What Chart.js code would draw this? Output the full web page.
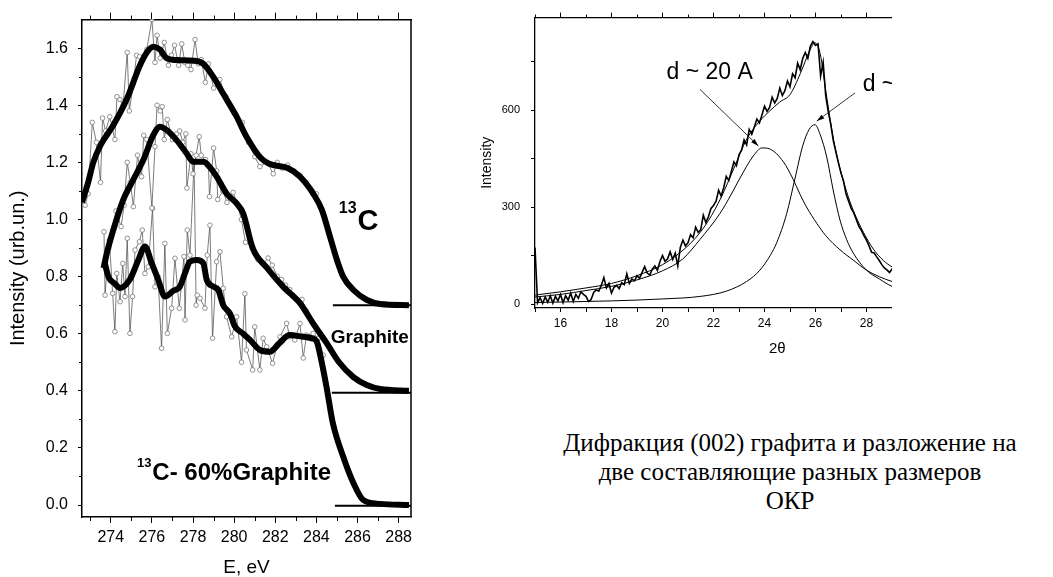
<!DOCTYPE html>
<html>
<head>
<meta charset="utf-8">
<script src="https://cdn.jsdelivr.net/npm/chart.js@4.4.0/dist/chart.umd.min.js"></script>
<style>
  html, body { margin: 0; padding: 0; background: #fff; }
  body { width: 1053px; height: 577px; position: relative; overflow: hidden; }
  #xasBox { position: absolute; left: 0; top: 0; width: 430px; height: 577px; }
  #xrdBox { position: absolute; left: 440px; top: 0; width: 452px; height: 360px; overflow: hidden; }
  #caption {
    position: absolute; left: 540px; top: 428px; width: 500px; text-align: center;
    font-family: "Liberation Serif", "Times New Roman", serif; font-size: 25px; line-height: 29px; color: #000;
  }
</style>
</head>
<body>
<div id="xasBox"><canvas id="xas" width="430" height="577"></canvas></div>
<div id="xrdBox"><canvas id="xrd" width="600" height="360"></canvas></div>
<div id="caption">Дифракция (002) графита и разложение на<br>две составляющие разных размеров<br>ОКР</div>
<script>
const SANS = "'Liberation Sans', Arial, sans-serif";
Chart.defaults.font.family = SANS;
Chart.defaults.color = "#000";

// LEFT PANEL DATA: [E (eV), intensity]
const c13Fit = [[272.6,1.06],[272.9,1.13],[273.15,1.20],[273.5,1.26],[274.12,1.33],[274.77,1.42],[275.42,1.54],[275.75,1.585],
  [276.07,1.605],[276.39,1.595],[276.72,1.565],[277.36,1.558],[278.01,1.556],[278.5,1.545],[278.98,1.50],[279.47,1.44],
  [280.12,1.36],[280.6,1.29],[281.3,1.215],[281.7,1.195],[282.6,1.18],[283.2,1.15],[283.85,1.09],[284.27,1.033],
  [284.66,0.94],[285.0,0.858],[285.3,0.80],[285.8,0.753],[286.46,0.718],[287.1,0.704],[288.5,0.70]];
const c13Raw = [[272.75,1.05],[272.9,1.09],[273.1,1.34],[273.3,1.27],[273.5,1.13],[273.6,1.355],[273.75,1.31],[273.95,1.36],
  [274.2,1.28],[274.3,1.43],[274.45,1.42],[274.6,1.40],[274.8,1.585],[274.9,1.38],[275.1,1.475],[275.25,1.575],[275.4,1.57],
  [275.55,1.56],[275.75,1.595],[276.0,1.70],[276.15,1.55],[276.25,1.645],[276.4,1.565],[276.6,1.62],[276.8,1.54],[276.95,1.575],
  [277.1,1.61],[277.3,1.54],[277.45,1.615],[277.6,1.55],[277.75,1.54],[277.9,1.525],[278.1,1.63],[278.25,1.545],[278.4,1.56],
  [278.6,1.48],[278.75,1.545],[279.0,1.46],[279.3,1.49],[279.6,1.43],[279.95,1.38],[280.1,1.365],[280.4,1.34],[280.7,1.27],
  [281.0,1.22],[281.25,1.185],[281.6,1.20],[281.9,1.16],[282.1,1.20],[282.35,1.18],[282.6,1.19],[282.9,1.17],[283.2,1.155],
  [283.5,1.13],[283.8,1.10],[284.0,1.09]];

const graphiteFit = [[273.65,0.83],[273.8,0.88],[274.12,0.963],[274.6,1.068],[275.1,1.14],[275.58,1.208],[276.07,1.296],
  [276.39,1.325],[276.72,1.313],[277.2,1.278],[277.69,1.231],[278.01,1.202],[278.5,1.202],[278.74,1.19],[279.15,1.15],
  [279.63,1.091],[280.12,1.056],[280.44,1.021],[280.9,0.90],[281.6,0.83],[282.4,0.763],[283.2,0.707],[283.83,0.637],
  [284.5,0.567],[285.1,0.50],[285.8,0.448],[286.45,0.42],[287.1,0.406],[288.5,0.40]];
const graphiteRaw = [[273.9,0.90],[274.1,0.96],[274.25,1.03],[274.5,0.975],[274.65,1.05],[274.8,1.20],[274.95,1.13],[275.1,1.045],
  [275.3,1.225],[275.5,1.15],[275.6,1.295],[275.75,1.28],[276.0,1.04],[276.15,1.255],[276.25,1.40],[276.4,1.38],[276.5,1.395],
  [276.6,1.28],[276.75,1.35],[277.0,1.28],[277.2,1.30],[277.35,1.31],[277.5,1.27],[277.65,1.30],[277.7,1.11],[277.9,1.23],
  [278.0,1.16],[278.15,1.225],[278.3,1.29],[278.4,1.225],[278.6,1.21],[278.75,1.185],[278.8,1.08],[279.0,1.25],[279.15,1.17],
  [279.2,1.07],[279.45,1.10],[279.65,1.06],[279.95,1.095],[280.15,1.055],[280.35,1.00],[280.55,0.92],[280.9,0.905],
  [281.15,0.86],[281.4,0.845],[281.65,0.865],[281.85,0.84],[282.1,0.80],[282.3,0.79],[282.5,0.77],[282.7,0.755],
  [282.85,0.73],[283.0,0.72],[283.3,0.72],[283.5,0.68]];

const mixFit = [[273.7,0.85],[273.88,0.80],[274.2,0.775],[274.45,0.76],[274.93,0.79],[275.34,0.858],[275.66,0.905],
  [275.99,0.847],[276.31,0.788],[276.63,0.73],[277.04,0.75],[277.36,0.765],[277.6,0.81],[277.85,0.852],[278.18,0.858],
  [278.5,0.847],[278.66,0.79],[278.98,0.765],[279.23,0.753],[279.47,0.70],[279.8,0.67],[280.04,0.625],[280.44,0.60],
  [280.77,0.578],[281.25,0.543],[281.74,0.537],[282.2,0.567],[282.7,0.595],[283.28,0.59],[283.77,0.584],[284.0,0.575],
  [284.2,0.52],[284.5,0.41],[284.8,0.287],[285.3,0.17],[285.8,0.077],[286.27,0.018],[287.1,0.004],[288.5,0.0]];
const mixRaw = [[273.67,0.957],[273.72,0.735],[273.93,0.928],[274.09,0.741],[274.2,0.607],[274.29,0.811],[274.45,0.712],
  [274.58,0.846],[274.69,0.73],[274.8,0.934],[274.93,0.601],[275.06,0.73],[275.18,0.893],[275.39,0.922],[275.53,0.963],
  [275.66,0.811],[275.82,0.834],[276.03,1.039],[276.15,0.764],[276.3,0.80],[276.47,0.549],[276.63,0.916],[276.75,0.601],
  [276.96,0.689],[277.12,0.864],[277.33,0.689],[277.56,0.87],[277.61,0.648],[277.72,0.963],[277.85,0.875],[278.05,1.20],
  [278.15,0.70],[278.2,0.735],[278.34,0.724],[278.58,0.689],[278.69,0.875],[278.82,0.98],[278.95,0.584],[279.15,0.852],
  [279.31,0.887],[279.47,0.759],[279.63,0.659],[279.88,0.589],[280.12,0.659],[280.36,0.50],[280.52,0.74],[280.6,0.543],
  [280.9,0.473],[281.0,0.624],[281.25,0.473],[281.41,0.584],[281.58,0.554],[281.87,0.496],[282.06,0.554],[282.23,0.589],
  [282.55,0.636],[282.71,0.589],[282.95,0.578],[283.2,0.636],[283.36,0.515],[283.52,0.595],[283.84,0.601],[284.09,0.584],
  [284.33,0.525]];

// flat tails at high energy
const c13Base = [[284.8,0.70],[288.8,0.70]];
const graphiteBase = [[284.75,0.393],[288.8,0.393]];
const mixBase = [[284.9,-0.003],[288.8,-0.003]];

const xasTicksE = [274, 276, 278, 280, 282, 284, 286, 288];
const xasMinorE = [273, 275, 277, 279, 281, 283, 285, 287];
const xasTicksI = [0.0, 0.2, 0.4, 0.6, 0.8, 1.0, 1.2, 1.4, 1.6];
const xasMinorI = [0.1, 0.3, 0.5, 0.7, 0.9, 1.1, 1.3, 1.5];

// RIGHT PANEL DATA: XRD (002)
const xrdStart = 15.0, xrdStep = 0.1;
const xrdCounts = [175,4,20,2,22,6,26,3,24,10,30,4,26,12,34,8,30,18,38,30,
  24,8,14,36,44,40,58,82,50,64,34,52,58,48,66,60,94,64,78,72,
  88,80,98,116,96,90,108,118,104,132,150,132,140,162,138,158,118,176,198,180,
  190,215,205,238,222,230,275,252,270,296,305,318,352,334,360,395,382,410,440,428,
  462,476,508,492,540,525,548,572,560,585,612,596,608,640,622,636,668,645,660,690,
  672,712,700,745,725,760,778,760,798,812,800,805,705,748,645,595,555,505,470,436,
  405,380,340,318,296,282,262,240,228,212,198,180,160,158,146,135,122,112,106,98,108,100];
const xrdFit = [[15,28],[16,38],[17,50],[18,64],[19,88],[20,122],[20.7,160],[21.3,205],[21.8,258],[22.3,330],[22.8,420],
  [23.3,510],[23.8,565],[24.2,597],[24.6,625],[25.0,648],[25.4,712],[25.78,785],[25.98,808],[26.18,775],[26.44,640],
  [26.7,512],[26.96,420],[27.22,348],[27.48,290],[27.88,222],[28.27,170],[28.66,135],[29.0,115],[29.5,95]];
const peak20A = [[15,22],[16,30],[17,42],[18,55],[19,75],[20,103],[20.8,140],[21.47,200],[22.25,280],[22.7,340],[23.04,390],
  [23.56,458],[23.9,483],[24.2,480],[24.74,440],[25.13,385],[25.39,340],[25.65,300],[26.05,250],[26.4,212],[26.96,168],
  [27.5,135],[28.0,105],[29.0,70],[29.5,62]];
const peakLarge = [[15,5],[18,10],[20,16],[21.5,24],[22.5,40],[23.3,70],[23.82,105],[24.22,150],[24.48,190],[24.87,280],
  [25.2,390],[25.5,490],[25.75,540],[25.98,555],[26.18,525],[26.44,455],[26.7,350],[26.96,260],[27.22,200],[27.48,158],
  [28.0,105],[28.5,78],[29.0,55],[29.5,45]];

const xrdTicks2T = [15, 16, 17, 18, 19, 20, 21, 22, 23, 24, 25, 26, 27, 28, 29, 30, 31, 32, 33];
const xrdTopTicks = [16, 18, 20, 22, 24, 26, 28, 30, 32];
const xrdMinor = [15, 17, 19, 21, 23, 25, 27, 29, 31, 33];
const xrdTicksI = [0, 150, 300, 450, 600, 750];
const xrdLabelsI = [0, 300, 600];

const pts = arr => arr.map(p => ({ x: p[0], y: p[1] }));
const setTicks = list => s => { s.ticks = list.map(v => ({ value: v })); };

// minor tick marks drawn against the chart's own scales
const minorTicks = {
  id: "minorTicks",
  afterDraw(chart, args, opts) {
    const { ctx, chartArea: a } = chart;
    ctx.save();
    ctx.strokeStyle = "#000";
    ctx.lineWidth = 1;
    (opts.marks || []).forEach(m => {
      const s = chart.scales[m.scale];
      m.values.forEach(v => {
        const p = Math.round(s.getPixelForValue(v)) + 0.5;
        ctx.beginPath();
        if (m.side === "bottom") { ctx.moveTo(p, a.bottom); ctx.lineTo(p, a.bottom + m.len); }
        if (m.side === "top") { ctx.moveTo(p, a.top); ctx.lineTo(p, a.top - m.len); }
        if (m.side === "left") { ctx.moveTo(a.left, p); ctx.lineTo(a.left - m.len, p); }
        ctx.stroke();
      });
    });
    if (opts.rightEdge) {
      ctx.lineWidth = 1.5;
      ctx.beginPath();
      ctx.moveTo(a.right, a.top);
      ctx.lineTo(a.right, a.bottom);
      ctx.stroke();
    }
    ctx.restore();
  }
};

// text marks (with optional superscript) and arrows in data coordinates
const notes = {
  id: "notes",
  afterDatasetsDraw(chart, args, opts) {
    const { ctx } = chart;
    const xs = chart.scales.x, ys = chart.scales.y;
    ctx.save();
    ctx.fillStyle = "#000";
    ctx.strokeStyle = "#000";
    ctx.textAlign = "left";
    ctx.textBaseline = "alphabetic";
    (opts.texts || []).forEach(t => {
      let px = xs.getPixelForValue(t.x);
      const py = ys.getPixelForValue(t.y);
      if (t.sup) {
        ctx.font = (t.bold ? "bold " : "") + t.supSize + "px " + SANS;
        ctx.fillText(t.sup, px, py - t.rise);
        px += ctx.measureText(t.sup).width + 1;
      }
      ctx.font = (t.bold ? "bold " : "") + t.size + "px " + SANS;
      ctx.fillText(t.text, px, py);
    });
    (opts.arrows || []).forEach(r => {
      const x1 = xs.getPixelForValue(r.x1), y1 = ys.getPixelForValue(r.y1);
      const x2 = xs.getPixelForValue(r.x2), y2 = ys.getPixelForValue(r.y2);
      const ang = Math.atan2(y2 - y1, x2 - x1);
      ctx.lineWidth = 0.8;
      ctx.beginPath();
      ctx.moveTo(x1, y1);
      ctx.lineTo(x2, y2);
      ctx.stroke();
      ctx.beginPath();
      ctx.moveTo(x2, y2);
      ctx.lineTo(x2 - 8 * Math.cos(ang - 0.3), y2 - 8 * Math.sin(ang - 0.3));
      ctx.lineTo(x2 - 8 * Math.cos(ang + 0.3), y2 - 8 * Math.sin(ang + 0.3));
      ctx.closePath();
      ctx.fill();
    });
    ctx.restore();
  }
};

const thick = (data) => ({ data: pts(data), borderColor: "#000", borderWidth: 6, pointRadius: 0,
  cubicInterpolationMode: "monotone", order: 0 });
const noisy = (data) => ({ data: pts(data), borderColor: "#444", borderWidth: 0.7, pointRadius: 2.3,
  pointBorderColor: "#777", pointBackgroundColor: "#fff", pointBorderWidth: 0.8, order: 2 });
const flat = (data) => ({ data: pts(data), borderColor: "#000", borderWidth: 2, pointRadius: 0, order: 1 });

new Chart(document.getElementById("xas"), {
  type: "line",
  data: {
    datasets: [
      thick(c13Fit), thick(graphiteFit), thick(mixFit),
      noisy(c13Raw), noisy(graphiteRaw), noisy(mixRaw),
      flat(c13Base), flat(graphiteBase), flat(mixBase)
    ]
  },
  options: {
    responsive: false,
    animation: false,
    events: [],
    layout: { padding: { left: 0, right: 19, top: 0, bottom: 0 } },
    plugins: {
      legend: { display: false },
      tooltip: { enabled: false },
      minorTicks: {
        rightEdge: true,
        marks: [
          { scale: "x", side: "bottom", len: 4, values: xasMinorE },
          { scale: "xTop", side: "top", len: 4, values: xasMinorE },
          { scale: "y", side: "left", len: 3, values: xasMinorI }
        ]
      },
      notes: {
        texts: [
          { x: 285.09, y: 0.963, sup: "13", supSize: 16, rise: 17, text: "C", size: 29, bold: true },
          { x: 284.7, y: 0.567, text: "Graphite", size: 19, bold: true },
          { x: 275.27, y: 0.0875, sup: "13", supSize: 13, rise: 13, text: "C- 60%Graphite", size: 24, bold: true }
        ]
      }
    },
    scales: {
      x: {
        type: "linear", position: "bottom", min: 272.6, max: 288.6,
        afterBuildTicks: setTicks(xasTicksE),
        ticks: { padding: 5, font: { size: 16 }, maxRotation: 0, autoSkip: false },
        grid: { drawOnChartArea: false, tickLength: 6, color: "#000" },
        border: { color: "#000", width: 1.5 },
        title: { display: true, text: "E, eV", font: { size: 19, lineHeight: 1 }, padding: { top: 0, bottom: 0 } },
        afterFit: s => { s.height = 60; }
      },
      xTop: {
        type: "linear", position: "top", min: 272.6, max: 288.6,
        afterBuildTicks: setTicks(xasTicksE),
        ticks: { display: false },
        grid: { drawOnChartArea: false, tickLength: 7, color: "#000" },
        border: { color: "#000", width: 1.5 },
        afterFit: s => { s.height = 19; }
      },
      y: {
        type: "linear", position: "left", min: -0.042, max: 1.70,
        afterBuildTicks: setTicks(xasTicksI),
        ticks: { padding: 10, font: { size: 16 }, autoSkip: false, callback: v => v.toFixed(1) },
        grid: { drawOnChartArea: false, tickLength: 4, color: "#000" },
        border: { color: "#000", width: 1.5 },
        title: { display: true, text: "Intensity (urb.un.)", font: { size: 20, lineHeight: 1 }, padding: { top: 8, bottom: 0 } },
        afterFit: s => { s.width = 82; }
      }
    }
  },
  plugins: [minorTicks, notes]
});

new Chart(document.getElementById("xrd"), {
  type: "line",
  data: {
    datasets: [
      { data: xrdCounts.map((c, i) => ({ x: xrdStart + i * xrdStep, y: c })), borderColor: "#000", borderWidth: 1.6,
        pointRadius: 0, tension: 0, order: 0 },
      { data: pts(xrdFit), borderColor: "#000", borderWidth: 1, pointRadius: 0, cubicInterpolationMode: "monotone", order: 1 },
      { data: pts(peak20A), borderColor: "#000", borderWidth: 1, pointRadius: 0, cubicInterpolationMode: "monotone", order: 1 },
      { data: pts(peakLarge), borderColor: "#000", borderWidth: 1, pointRadius: 0, cubicInterpolationMode: "monotone", order: 1 }
    ]
  },
  options: {
    responsive: false,
    animation: false,
    events: [],
    layout: { padding: { left: 0, right: 20.5, top: 0, bottom: 0 } },
    plugins: {
      legend: { display: false },
      tooltip: { enabled: false },
      minorTicks: {
        marks: [{ scale: "xTop", side: "top", len: 3, values: xrdMinor }]
      },
      notes: {
        texts: [
          { x: 20.16, y: 697, text: "d ~ 20 A", size: 23 },
          { x: 27.85, y: 658, text: "d ~", size: 23 }
        ],
        arrows: [
          { x1: 21.47, y1: 664, x2: 23.76, y2: 489 },
          { x1: 27.55, y1: 653, x2: 26.05, y2: 566 }
        ]
      }
    },
    scales: {
      x: {
        type: "linear", position: "bottom", min: 15, max: 34,
        afterBuildTicks: setTicks(xrdTicks2T),
        ticks: { autoSkip: false, padding: 4, font: { size: 12 }, maxRotation: 0,
          callback: v => (xrdTopTicks.includes(v) ? v : "") },
        grid: { drawOnChartArea: false, tickLength: 4, color: "#000" },
        border: { color: "#000", width: 1.3 },
        title: { display: true, text: "2θ", font: { size: 15, lineHeight: 1 }, padding: { top: 0, bottom: 4 } },
        afterFit: s => { s.height = 52; }
      },
      xTop: {
        type: "linear", position: "top", min: 15, max: 34,
        afterBuildTicks: setTicks(xrdTopTicks),
        ticks: { display: false },
        grid: { drawOnChartArea: false, tickLength: 5, color: "#000" },
        border: { color: "#000", width: 1.3 },
        afterFit: s => { s.height = 16; }
      },
      y: {
        type: "linear", position: "left", min: -12, max: 886,
        afterBuildTicks: setTicks(xrdTicksI),
        ticks: { autoSkip: false, padding: 11, font: { size: 11 },
          callback: v => (xrdLabelsI.includes(v) ? v : "") },
        grid: { drawOnChartArea: false, tickLength: 4, color: "#000" },
        border: { color: "#000", width: 1.3 },
        title: { display: true, text: "Intensity", font: { size: 14, lineHeight: 1 }, padding: { top: 40, bottom: 0 } },
        afterFit: s => { s.width = 95; }
      }
    }
  },
  plugins: [minorTicks, notes]
});
</script>
</body>
</html>
